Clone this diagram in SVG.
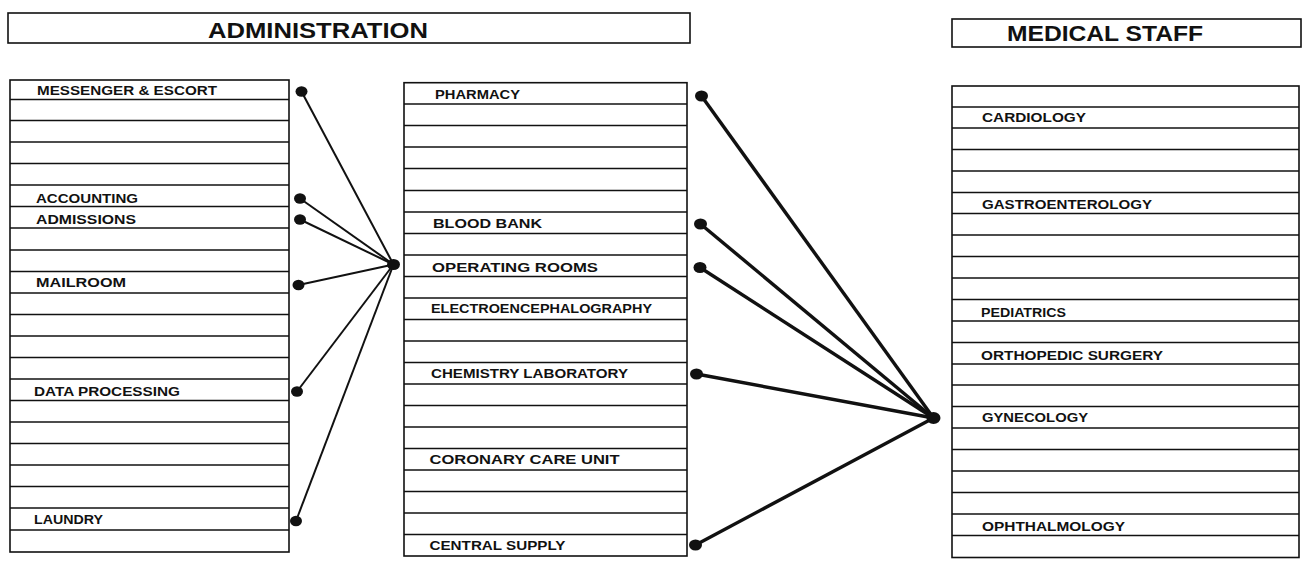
<svg xmlns="http://www.w3.org/2000/svg" width="1303" height="563" viewBox="0 0 1303 563">
<style>
.box{fill:#fff;stroke:#111;stroke-width:1.6}
.row{stroke:#111;stroke-width:1.3}
.hdr{font-family:"Liberation Sans",Arial,sans-serif;font-weight:bold;font-size:22px;fill:#111}
.lbl{font-family:"Liberation Sans",Arial,sans-serif;font-weight:bold;font-size:13.5px;fill:#111}
.c1{stroke:#111;stroke-width:2;fill:none}
.c2{stroke:#111;stroke-width:3.4;fill:none}
.dot{fill:#111}
</style>
<rect width="1303" height="563" fill="#fff"/>
<g id="header-administration">
<rect class="box" x="8" y="13" width="682" height="30"/>
<text class="hdr" x="208" y="38.3" textLength="220" lengthAdjust="spacingAndGlyphs">ADMINISTRATION</text>
</g>
<g id="header-medical-staff">
<rect class="box" x="952" y="19" width="349" height="28"/>
<text class="hdr" x="1007" y="40.7" textLength="196" lengthAdjust="spacingAndGlyphs">MEDICAL STAFF</text>
</g>
<g id="administration-list">
<rect class="box" x="10" y="80" width="279" height="472"/>
<g class="row">
<line x1="10" x2="289" y1="99.5" y2="99.5"/><line x1="10" x2="289" y1="120.5" y2="120.5"/><line x1="10" x2="289" y1="142" y2="142"/><line x1="10" x2="289" y1="163.5" y2="163.5"/><line x1="10" x2="289" y1="185" y2="185"/><line x1="10" x2="289" y1="206.5" y2="206.5"/><line x1="10" x2="289" y1="228" y2="228"/><line x1="10" x2="289" y1="250" y2="250"/><line x1="10" x2="289" y1="271.5" y2="271.5"/><line x1="10" x2="289" y1="293" y2="293"/><line x1="10" x2="289" y1="314.5" y2="314.5"/><line x1="10" x2="289" y1="336" y2="336"/><line x1="10" x2="289" y1="357.5" y2="357.5"/><line x1="10" x2="289" y1="379" y2="379"/><line x1="10" x2="289" y1="400.5" y2="400.5"/><line x1="10" x2="289" y1="422" y2="422"/><line x1="10" x2="289" y1="443.5" y2="443.5"/><line x1="10" x2="289" y1="465" y2="465"/><line x1="10" x2="289" y1="486.5" y2="486.5"/><line x1="10" x2="289" y1="508" y2="508"/><line x1="10" x2="289" y1="530" y2="530"/>
</g>
</g>
<g id="node-messenger"><text class="lbl" x="37" y="95" textLength="180" lengthAdjust="spacingAndGlyphs">MESSENGER &amp; ESCORT</text></g>
<g id="node-accounting"><text class="lbl" x="36" y="202.7" textLength="102" lengthAdjust="spacingAndGlyphs">ACCOUNTING</text></g>
<g id="node-admissions"><text class="lbl" x="36" y="224" textLength="100" lengthAdjust="spacingAndGlyphs">ADMISSIONS</text></g>
<g id="node-mailroom"><text class="lbl" x="36" y="287.3" textLength="90" lengthAdjust="spacingAndGlyphs">MAILROOM</text></g>
<g id="node-data-processing"><text class="lbl" x="34" y="395.7" textLength="146" lengthAdjust="spacingAndGlyphs">DATA PROCESSING</text></g>
<g id="node-laundry"><text class="lbl" x="34" y="524.3" textLength="69" lengthAdjust="spacingAndGlyphs">LAUNDRY</text></g>

<g id="services-list">
<rect class="box" x="404" y="82.7" width="283" height="473.3"/>
<g class="row">
<line x1="404" x2="687" y1="104" y2="104"/><line x1="404" x2="687" y1="125.5" y2="125.5"/><line x1="404" x2="687" y1="147" y2="147"/><line x1="404" x2="687" y1="168.5" y2="168.5"/><line x1="404" x2="687" y1="190.5" y2="190.5"/><line x1="404" x2="687" y1="212" y2="212"/><line x1="404" x2="687" y1="233.5" y2="233.5"/><line x1="404" x2="687" y1="255" y2="255"/><line x1="404" x2="687" y1="276.5" y2="276.5"/><line x1="404" x2="687" y1="298" y2="298"/><line x1="404" x2="687" y1="319.5" y2="319.5"/><line x1="404" x2="687" y1="341" y2="341"/><line x1="404" x2="687" y1="362.5" y2="362.5"/><line x1="404" x2="687" y1="384" y2="384"/><line x1="404" x2="687" y1="405.5" y2="405.5"/><line x1="404" x2="687" y1="427" y2="427"/><line x1="404" x2="687" y1="448.5" y2="448.5"/><line x1="404" x2="687" y1="470" y2="470"/><line x1="404" x2="687" y1="491.5" y2="491.5"/><line x1="404" x2="687" y1="513" y2="513"/><line x1="404" x2="687" y1="534.5" y2="534.5"/>
</g>
</g>
<g id="node-pharmacy"><text class="lbl" x="435" y="99" textLength="85" lengthAdjust="spacingAndGlyphs">PHARMACY</text></g>
<g id="node-blood-bank"><text class="lbl" x="433" y="228.3" textLength="109" lengthAdjust="spacingAndGlyphs">BLOOD BANK</text></g>
<g id="node-operating-rooms"><text class="lbl" x="432" y="271.7" textLength="166" lengthAdjust="spacingAndGlyphs">OPERATING ROOMS</text></g>
<g id="node-eeg"><text class="lbl" x="431" y="313.3" textLength="221" lengthAdjust="spacingAndGlyphs">ELECTROENCEPHALOGRAPHY</text></g>
<g id="node-chemistry"><text class="lbl" x="431" y="378.3" textLength="197" lengthAdjust="spacingAndGlyphs">CHEMISTRY LABORATORY</text></g>
<g id="node-coronary"><text class="lbl" x="429.5" y="464.3" textLength="190" lengthAdjust="spacingAndGlyphs">CORONARY CARE UNIT</text></g>
<g id="node-central-supply"><text class="lbl" x="429.5" y="550" textLength="136" lengthAdjust="spacingAndGlyphs">CENTRAL SUPPLY</text></g>

<g id="medical-staff-list">
<rect class="box" x="952" y="86" width="347" height="471.5"/>
<g class="row">
<line x1="952" x2="1299" y1="107" y2="107"/><line x1="952" x2="1299" y1="128" y2="128"/><line x1="952" x2="1299" y1="149.5" y2="149.5"/><line x1="952" x2="1299" y1="171" y2="171"/><line x1="952" x2="1299" y1="192.5" y2="192.5"/><line x1="952" x2="1299" y1="213.5" y2="213.5"/><line x1="952" x2="1299" y1="235" y2="235"/><line x1="952" x2="1299" y1="256.5" y2="256.5"/><line x1="952" x2="1299" y1="278" y2="278"/><line x1="952" x2="1299" y1="299.5" y2="299.5"/><line x1="952" x2="1299" y1="321" y2="321"/><line x1="952" x2="1299" y1="342.5" y2="342.5"/><line x1="952" x2="1299" y1="364" y2="364"/><line x1="952" x2="1299" y1="385" y2="385"/><line x1="952" x2="1299" y1="406.5" y2="406.5"/><line x1="952" x2="1299" y1="428" y2="428"/><line x1="952" x2="1299" y1="449.5" y2="449.5"/><line x1="952" x2="1299" y1="471" y2="471"/><line x1="952" x2="1299" y1="492.5" y2="492.5"/><line x1="952" x2="1299" y1="514" y2="514"/><line x1="952" x2="1299" y1="535.5" y2="535.5"/>
</g>
</g>
<g id="node-cardiology"><text class="lbl" x="982" y="122.3" textLength="104" lengthAdjust="spacingAndGlyphs">CARDIOLOGY</text></g>
<g id="node-gastro"><text class="lbl" x="982" y="209" textLength="170" lengthAdjust="spacingAndGlyphs">GASTROENTEROLOGY</text></g>
<g id="node-pediatrics"><text class="lbl" x="981" y="316.7" textLength="85" lengthAdjust="spacingAndGlyphs">PEDIATRICS</text></g>
<g id="node-orthopedic"><text class="lbl" x="981" y="360" textLength="182" lengthAdjust="spacingAndGlyphs">ORTHOPEDIC SURGERY</text></g>
<g id="node-gynecology"><text class="lbl" x="982" y="422.3" textLength="106" lengthAdjust="spacingAndGlyphs">GYNECOLOGY</text></g>
<g id="node-ophthalmology"><text class="lbl" x="982" y="531" textLength="143" lengthAdjust="spacingAndGlyphs">OPHTHALMOLOGY</text></g>

<g id="connectors">
<g class="c1">
<line x1="301.5" y1="91.5" x2="393.5" y2="264.5"/>
<line x1="300" y1="198.5" x2="393.5" y2="264.5"/>
<line x1="300" y1="219.5" x2="393.5" y2="264.5"/>
<line x1="298.5" y1="285" x2="393.5" y2="264.5"/>
<line x1="297" y1="391.5" x2="393.5" y2="264.5"/>
<line x1="296" y1="521" x2="393.5" y2="264.5"/>
</g>
<g class="c2">
<line x1="701.5" y1="96" x2="933.5" y2="418"/>
<line x1="700.5" y1="224" x2="933.5" y2="418"/>
<line x1="700" y1="267.5" x2="933.5" y2="418"/>
<line x1="696.5" y1="374" x2="933.5" y2="418"/>
<line x1="695.5" y1="545" x2="933.5" y2="418"/>
</g>
<g class="dot">
<ellipse cx="301.5" cy="91.5" rx="6" ry="5.2"/>
<ellipse cx="300" cy="198.5" rx="6" ry="5.2"/>
<ellipse cx="300" cy="219.5" rx="6" ry="5.2"/>
<ellipse cx="298.5" cy="285" rx="6" ry="5.2"/>
<ellipse cx="297" cy="391.5" rx="6" ry="5.2"/>
<ellipse cx="296" cy="521" rx="6" ry="5.2"/>
<ellipse cx="393.5" cy="264.5" rx="6.5" ry="5.5"/>
<ellipse cx="701.5" cy="96" rx="6.5" ry="5.5"/>
<ellipse cx="700.5" cy="224" rx="6.5" ry="5.5"/>
<ellipse cx="700" cy="267.5" rx="6.5" ry="5.5"/>
<ellipse cx="696.5" cy="374" rx="6.5" ry="5.5"/>
<ellipse cx="695.5" cy="545" rx="6.5" ry="5.5"/>
<ellipse cx="933.5" cy="418" rx="7" ry="6"/>
</g>
</g>
</svg>
